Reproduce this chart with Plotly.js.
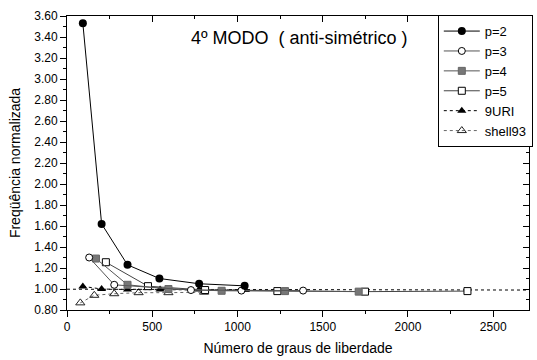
<!DOCTYPE html>
<html>
<head>
<meta charset="utf-8">
<script src="https://cdn.plot.ly/plotly-3.0.1.min.js"></script>
<style>html,body{margin:0;padding:0;background:#fff;}</style>
</head>
<body>
<div id="chart" style="width:537px;height:360px;"></div>
<script>
// Data
const p2X = [93, 203, 355, 542, 775, 1042];
const p2Y = [3.53, 1.62, 1.23, 1.10, 1.05, 1.03];
const p3X = [130, 277, 727, 1023, 1385];
const p3Y = [1.30, 1.04, 0.99, 0.985, 0.985];
const p4X = [170, 355, 595, 907, 1279, 1711];
const p4Y = [1.29, 1.04, 1.00, 0.983, 0.98, 0.975];
const p5X = [228, 475, 810, 1234, 1748, 2349];
const p5Y = [1.255, 1.027, 0.99, 0.98, 0.975, 0.98];
const uriX = [93, 203, 355, 546, 775, 1047];
const uriY = [1.025, 1.00, 0.995, 0.995, 0.995, 0.99];
const shellX = [78, 160, 277, 420, 595, 804];
const shellY = [0.868, 0.94, 0.955, 0.965, 0.965, 0.97];
const refX = [0, 2710];
const refY = [0.998, 0.99];
const seriesNames = ['p=2', 'p=3', 'p=4', 'p=5', '9URI', 'shell93'];

const FONT = 'Liberation Sans, Arial, sans-serif';

const traces = [
  {x: refX, y: refY, mode: 'lines', showlegend: false, hoverinfo: 'skip',
   line: {color: '#000', width: 1, dash: 'dot'}},
  {x: shellX, y: shellY, name: seriesNames[5], mode: 'lines+markers',
   line: {color: '#666', width: 1, dash: 'dot'},
   marker: {symbol: 'triangle-up-open', size: 8, color: '#222', line: {width: 1}}},
  {x: uriX, y: uriY, name: seriesNames[4], mode: 'lines+markers',
   line: {color: '#000', width: 1, dash: 'dot'},
   marker: {symbol: 'triangle-up', size: 8, color: '#000'}},
  {x: p5X, y: p5Y, name: seriesNames[3], mode: 'lines+markers',
   line: {color: '#444', width: 1},
   marker: {symbol: 'square', size: 7, color: '#fff', line: {color: '#000', width: 1}}},
  {x: p4X, y: p4Y, name: seriesNames[2], mode: 'lines+markers',
   line: {color: '#555', width: 1},
   marker: {symbol: 'square', size: 7, color: '#777', line: {color: '#666', width: 1}}},
  {x: p3X, y: p3Y, name: seriesNames[1], mode: 'lines+markers',
   line: {color: '#555', width: 1},
   marker: {symbol: 'circle', size: 7, color: '#fff', line: {color: '#000', width: 1}}},
  {x: p2X, y: p2Y, name: seriesNames[0], mode: 'lines+markers',
   line: {color: '#000', width: 1},
   marker: {symbol: 'circle', size: 8, color: '#000'}},
  {x: [null], y: [null], xaxis: 'x2', yaxis: 'y2', showlegend: false, hoverinfo: 'skip', mode: 'markers'}
];

const xRange = [0, 2710];
const yRange = [0.8, 3.6];

const layout = {
  width: 537, height: 360,
  margin: {l: 67, r: 4, t: 16, b: 50},
  paper_bgcolor: '#fff', plot_bgcolor: '#fff',
  font: {family: FONT, color: '#000', size: 12},
  showlegend: true,
  legend: {x: 0.8026, y: 1.003, xanchor: 'left', yanchor: 'top',
           bordercolor: '#000', borderwidth: 1, bgcolor: '#fff', itemwidth: 36,
           font: {family: FONT, size: 13}, traceorder: 'reversed'},
  xaxis: {range: xRange, dtick: 500, tick0: 0, ticks: 'outside', ticklen: 6, tickcolor: '#000',
          showline: true, linecolor: '#000', linewidth: 1, showgrid: false, zeroline: false,
          tickfont: {size: 12}, minor: {dtick: 250, ticks: 'outside', ticklen: 3, tickcolor: '#000'},
          title: {text: 'Número de graus de liberdade', font: {size: 14}, standoff: 9}},
  yaxis: {range: yRange, dtick: 0.2, tick0: 0.8, tickformat: '.2f', ticks: 'outside', ticklen: 6,
          tickcolor: '#000', showline: true, linecolor: '#000', linewidth: 1, showgrid: false,
          zeroline: false, tickfont: {size: 12},
          minor: {dtick: 0.1, ticks: 'outside', ticklen: 3, tickcolor: '#000'},
          title: {text: 'Freqüência normalizada', font: {size: 14}, standoff: 10}},
  xaxis2: {overlaying: 'x', side: 'top', anchor: 'y2', range: xRange, dtick: 500, tick0: 0,
           ticks: 'inside', ticklen: 6, tickcolor: '#000', showline: true, linecolor: '#000',
           linewidth: 1, showgrid: false, zeroline: false, showticklabels: false,
           minor: {dtick: 250, ticks: 'inside', ticklen: 3, tickcolor: '#000'}},
  yaxis2: {overlaying: 'y', side: 'right', anchor: 'x2', range: yRange, dtick: 0.2, tick0: 0.8,
           ticks: 'inside', ticklen: 6, tickcolor: '#000', showline: true, linecolor: '#000',
           linewidth: 1, showgrid: false, zeroline: false, showticklabels: false,
           minor: {dtick: 0.1, ticks: 'inside', ticklen: 3, tickcolor: '#000'}},
  annotations: [{text: '4º MODO \u00a0( anti-simétrico )', xref: 'paper', yref: 'paper',
                 x: 0.503, y: 0.925, xanchor: 'center', yanchor: 'middle', showarrow: false,
                 font: {family: FONT, size: 18, color: '#000'}}]
};

Plotly.newPlot('chart', traces, layout, {staticPlot: true, displayModeBar: false});
</script>
</body>
</html>
